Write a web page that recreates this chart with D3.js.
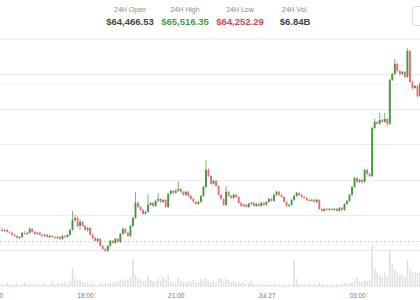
<!DOCTYPE html>
<html>
<head>
<meta charset="utf-8">
<script src="https://cdn.jsdelivr.net/npm/d3@7"></script>
<style>
  body { margin: 0; background: #fff; }
  svg { display: block; font-family: "Liberation Sans", Arial, sans-serif; }
</style>
</head>
<body>
<svg id="chart" width="420" height="300"></svg>
<script>
// header stats
var statLabels = ["24H Open", "24H High", "24H Low", "24H Vol."];
var statValues = ["$64,466.53", "$65,516.35", "$64,252.29", "$6.84B"];
var statColors = ["#444", "#4a9b3f", "#d8434f", "#444"];

// 5 minute candles, first one at 15:15 Jul 26
var firstTime = new Date(2024, 6, 26, 15, 15);
var firstOpen = 64143;
var closes = [
  64136,64143,64129,64122,64108,64100,64086,64093,64122,64115,
  64122,64150,64129,64115,64122,64108,64100,64108,64093,64100,
  64093,64086,64093,64079,64100,64093,64108,64143,64214,64228,
  64171,64200,64171,64143,64157,64108,64086,64065,64079,64029,
  64008,63994,64029,64065,64051,64079,64058,64115,64150,64122,
  64100,64171,64228,64335,64306,64285,64257,64271,64321,64335,
  64313,64349,64363,64342,64356,64306,64399,64420,64406,64420,
  64434,64413,64392,64413,64384,64363,64342,64328,64342,64384,
  64448,64569,64526,64470,64491,64455,64392,64363,64321,64413,
  64384,64370,64392,64377,64335,64313,64321,64306,64328,64335,
  64313,64328,64313,64335,64321,64342,64363,64349,64392,64413,
  64392,64377,64342,64313,64321,64356,64384,64406,64392,64377,
  64370,64356,64349,64356,64342,64356,64292,64278,64292,64285,
  64292,64285,64292,64278,64299,64285,64328,64349,64392,64448,
  64512,64484,64498,64484,64569,64541,64526,64867,64910,64896,
  64924,64910,64931,64896,65208,65251,65322,65272,65251,65265,
  65229,65414,65194,65151,65165,65094,65180
];
var highs = [
  64157,64150,64150,64136,64129,64115,64108,64100,64129,64136,
  64129,64164,64157,64136,64129,64129,64115,64115,64115,64108,
  64108,64100,64100,64100,64108,64108,64115,64150,64278,64249,
  64242,64221,64207,64178,64164,64164,64115,64093,64086,64086,
  64036,64015,64036,64072,64072,64086,64086,64122,64164,64157,
  64129,64178,64235,64413,64349,64313,64292,64278,64399,64342,
  64342,64356,64406,64370,64363,64363,64406,64427,64427,64434,
  64484,64441,64420,64420,64420,64392,64370,64349,64349,64392,
  64455,64640,64583,64533,64498,64498,64462,64399,64370,64455,
  64420,64392,64399,64399,64384,64342,64328,64328,64335,64342,
  64342,64335,64335,64342,64342,64349,64370,64370,64399,64420,
  64420,64399,64384,64349,64328,64363,64392,64413,64413,64399,
  64384,64377,64363,64363,64363,64363,64363,64299,64299,64299,
  64299,64299,64299,64299,64306,64306,64335,64356,64399,64455,
  64519,64519,64505,64505,64576,64576,64548,64874,64931,64917,
  64974,64931,64974,64938,65215,65258,65357,65329,65279,65272,
  65272,65435,65421,65201,65172,65172,65194
];
var lows = [
  64129,64129,64122,64115,64100,64093,64079,64079,64086,64108,
  64108,64115,64122,64108,64108,64100,64093,64093,64086,64086,
  64086,64079,64079,64072,64072,64086,64086,64100,64136,64200,
  64164,64143,64164,64136,64129,64100,64079,64058,64051,64022,
  64001,63987,63987,64022,64044,64044,64051,64051,64108,64115,
  64093,64093,64164,64221,64299,64278,64249,64249,64264,64313,
  64306,64306,64342,64335,64335,64299,64299,64392,64399,64399,
  64413,64406,64384,64384,64377,64356,64335,64320,64320,64335,
  64377,64441,64519,64463,64463,64448,64384,64356,64313,64313,
  64377,64363,64363,64370,64328,64306,64306,64299,64299,64321,
  64306,64306,64306,64306,64313,64313,64335,64342,64342,64384,
  64384,64370,64335,64306,64306,64313,64349,64377,64384,64370,
  64363,64349,64342,64342,64335,64335,64285,64271,64271,64278,
  64278,64278,64278,64271,64271,64278,64278,64321,64342,64384,
  64441,64477,64477,64470,64477,64533,64519,64519,64860,64889,
  64889,64903,64903,64874,64889,65201,65244,65258,65236,65244,
  65222,65222,65187,65137,65144,65080,65087
];
var volumes = [
  30,20,40,30,20,30,40,20,30,50,
  30,40,30,20,30,20,30,40,20,30,
  50,30,40,30,40,50,30,60,190,80,
  60,70,50,40,50,30,40,30,20,40,
  30,40,30,50,40,60,50,70,60,80,
  70,100,280,120,90,70,60,60,110,70,
  60,50,80,60,100,70,120,60,50,40,
  90,60,50,40,60,50,70,40,50,80,
  60,90,70,50,70,40,80,90,60,80,
  70,50,60,40,50,40,50,30,40,60,
  30,20,30,20,30,20,30,20,30,20,
  30,20,30,20,30,20,270,80,30,20,
  30,20,30,20,30,20,40,30,20,30,
  20,30,20,30,20,30,40,30,40,50,
  60,100,60,50,70,60,70,420,180,150,
  120,100,140,110,370,230,170,150,130,120,
  100,270,180,140,150,140,150
];

var tickTimes = [new Date(2024,6,26,15,0), new Date(2024,6,26,18,0), new Date(2024,6,26,21,0),
                 new Date(2024,6,27,0,0), new Date(2024,6,27,3,0)];
var tickLabels = ["15:00", "18:00", "21:00", "Jul 27", "03:00"];
var priceGrid = [64000, 64250, 64500, 64750, 65000, 65250];

var green = "#43993c", red = "#e96d79";

var svg = d3.select("#chart"),
    width = +svg.attr("width"),
    height = +svg.attr("height");

var candles = closes.map(function(c, i) {
  return {
    time: d3.timeMinute.offset(firstTime, 5 * i),
    open: i == 0 ? firstOpen : closes[i - 1],
    high: highs[i], low: lows[i], close: c, vol: volumes[i]
  };
});

var x = d3.scaleTime()
  .domain([new Date(2024,6,26,15,11), new Date(2024,6,27,5,5)])
  .range([0, width]);
var y = d3.scaleLinear().domain([64000, 65250]).range([250, 74]);
var yVol = d3.scaleLinear().domain([0, 460]).range([287, 241]);

// header
var stats = svg.append("g");
statLabels.forEach(function(l, i) {
  var cx = [130, 185, 240, 295][i];
  stats.append("text").attr("x", cx).attr("y", 11.5).attr("text-anchor", "middle")
    .attr("font-size", 7).attr("fill", "#8c8c8c").text(l);
  stats.append("text").attr("x", cx).attr("y", 25).attr("text-anchor", "middle")
    .attr("font-size", 9.5).attr("font-weight", "bold").attr("fill", statColors[i]).text(statValues[i]);
});
svg.append("rect").attr("x", 412.5).attr("y", 6.5).attr("width", 20).attr("height", 19)
  .attr("rx", 3).attr("fill", "none").attr("stroke", "#dcdcdc");
svg.append("line").attr("x1", 0).attr("x2", width).attr("y1", 39).attr("y2", 39)
  .attr("stroke", "#e6e6e6");

// grid
svg.append("g").selectAll("line").data(priceGrid).enter().append("line")
  .attr("x1", 0).attr("x2", width)
  .attr("y1", function(d) { return Math.round(y(d)) + 0.5; })
  .attr("y2", function(d) { return Math.round(y(d)) + 0.5; })
  .attr("stroke", "#ececec");

// volume pane top + last price
svg.append("line").attr("x1", 0).attr("x2", width)
  .attr("y1", Math.round(yVol(460)) + 0.5).attr("y2", Math.round(yVol(460)) + 0.5)
  .attr("stroke", "#d6d6d6").attr("stroke-dasharray", "2,2");
svg.append("line").attr("x1", 0).attr("x2", width)
  .attr("y1", Math.round(y(closes[closes.length - 1])) + 0.5)
  .attr("y2", Math.round(y(closes[closes.length - 1])) + 0.5)
  .attr("stroke", "#e8e8e8").attr("stroke-dasharray", "2,2");

// volume bars
svg.append("g").selectAll("rect").data(candles).enter().append("rect")
  .attr("x", function(d) { return x(d.time) - 0.8; })
  .attr("width", 1.6)
  .attr("y", function(d) { return yVol(d.vol); })
  .attr("height", function(d) { return yVol(0) - yVol(d.vol); })
  .attr("fill", "#e0e0e0");

// candles
var cg = svg.append("g").selectAll("g").data(candles).enter().append("g");
cg.append("line")
  .attr("x1", function(d) { return x(d.time); })
  .attr("x2", function(d) { return x(d.time); })
  .attr("y1", function(d) { return y(d.high); })
  .attr("y2", function(d) { return y(d.low); })
  .attr("stroke", function(d) { return d.close >= d.open ? green : red; })
  .attr("stroke-width", 0.8)
  .attr("opacity", 0.85);
cg.append("rect")
  .attr("x", function(d) { return x(d.time) - 0.95; })
  .attr("width", 1.9)
  .attr("y", function(d) { return y(Math.max(d.open, d.close)); })
  .attr("height", function(d) { return Math.max(1, Math.abs(y(d.open) - y(d.close))); })
  .attr("fill", function(d) { return d.close >= d.open ? green : red; });

// time axis
var xAxis = svg.append("g").attr("transform", "translate(0,290)")
  .call(d3.axisBottom(x).tickValues(tickTimes).tickSize(0)
    .tickFormat(function(d, i) { return tickLabels[i]; }));
xAxis.select(".domain").remove();
xAxis.selectAll("text").attr("font-size", 6.5).attr("fill", "#7a7a7a")
  .attr("font-family", "'Liberation Sans', Arial, sans-serif");
</script>
</body>
</html>
